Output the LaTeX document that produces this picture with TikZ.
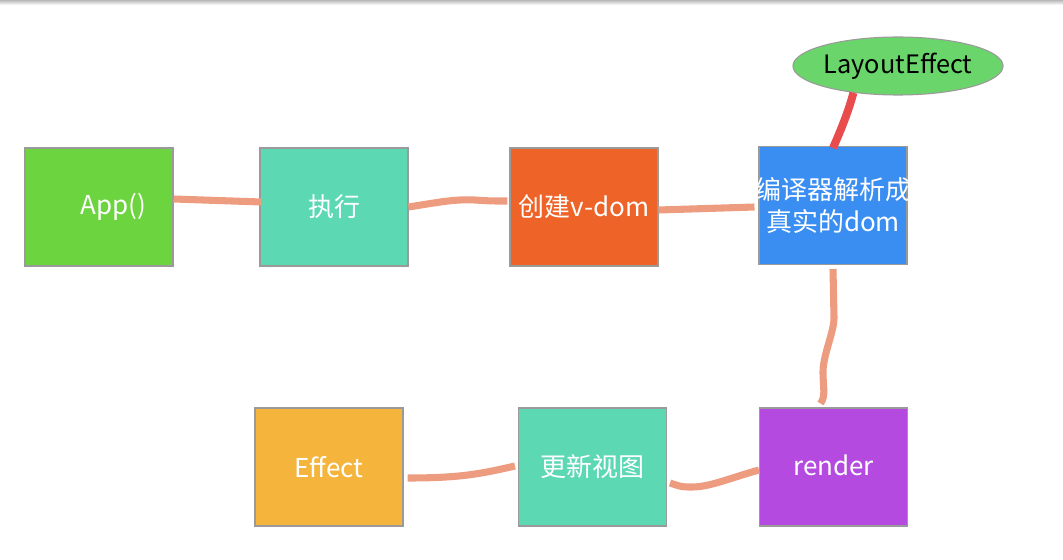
\documentclass[tikz,border=0pt]{standalone}
\usepackage{fontspec}
\newfontfamily\cjk{Noto Sans CJK SC}
\usetikzlibrary{shapes.geometric}
\definecolor{appgreen}{HTML}{6CD43E}
\definecolor{tealc}{HTML}{5CD8B3}
\definecolor{orangec}{HTML}{EE6428}
\definecolor{bluec}{HTML}{3A8EF2}
\definecolor{purplec}{HTML}{B44ADF}
\definecolor{yellowc}{HTML}{F5B43C}
\definecolor{ellgreen}{HTML}{6AD56A}
\definecolor{connc}{HTML}{EE9C80}
\definecolor{redc}{HTML}{E84C4C}
\definecolor{borderc}{HTML}{9A9A9A}
\begin{document}
\begin{tikzpicture}[x=0.75pt,y=-0.75pt,
  stepbox/.style={draw=borderc, line width=0.8pt, minimum width=111pt, minimum height=88.5pt,
    inner sep=0pt, text=white, font=\cjk\fontsize{19.5}{24}\selectfont, align=center},
  conn/.style={draw=connc, line width=5.3pt},
  redconn/.style={draw=redc, line width=6pt}]
\useasboundingbox (0,0) rectangle (1063,560);
\fill[white] (0,0) rectangle (1063,560);
\shade[top color=gray!55, bottom color=white] (0,0) rectangle (1063,5);

\node[stepbox, fill=appgreen] (app) at (99,207) {\hspace*{22pt}\raisebox{-2pt}{App()}};
\node[stepbox, fill=tealc] (exec) at (334,207) {\raisebox{-3pt}{执行}};
\node[stepbox, fill=orangec] (create) at (584,207) {\raisebox{-2pt}{创建v-dom}};
\node[stepbox, fill=bluec] (comp) at (833,205.5) {\makebox[0pt]{编译器解析成}\\\makebox[0pt]{真实的dom}};
\node[ellipse, draw=borderc, line width=0.8pt, fill=ellgreen, minimum width=154.5pt, minimum height=43.5pt,
  inner sep=0pt, font=\cjk\fontsize{19}{22}\selectfont] (layout) at (898,66) {LayoutEffect};
\node[stepbox, fill=yellowc] (effect) at (329,467) {Effect};
\node[stepbox, fill=tealc] (update) at (592.5,467) {更新视图};
\node[stepbox, fill=purplec] (render) at (833.5,467) {\raisebox{3pt}{render}};

\draw[conn] ([shift={(0,-8)}]app.east) -- ([shift={(2,-5)}]exec.west);
\draw[conn] ([shift={(0,0)}]exec.east) .. controls (440,202) and (455,199) .. (475,200) .. controls (490,201) .. ([shift={(-2,-6)}]create.west);
\draw[conn] ([shift={(0,3)}]create.east) -- ([shift={(-4,1.5)}]comp.west);
\draw[redconn] (layout.211) .. controls (848,113) and (840,132) .. ([shift={(0,2)}]comp.north);
\draw[conn] ([shift={(0,4)}]comp.south) -- (834,318) .. controls (834,332) and (823,355) .. (823,372) .. controls (823,388) and (826,396) .. ([shift={(-13,-4)}]render.north);
\draw[conn] ([shift={(0,3)}]render.west) .. controls (730,478) and (710,487) .. (692,487) .. controls (682,487) .. ([shift={(3,16)}]update.east);
\draw[conn] ([shift={(-3,-1)}]update.west) .. controls (480,474) and (460,478) .. ([shift={(4,11)}]effect.east);
\end{tikzpicture}
\end{document}
